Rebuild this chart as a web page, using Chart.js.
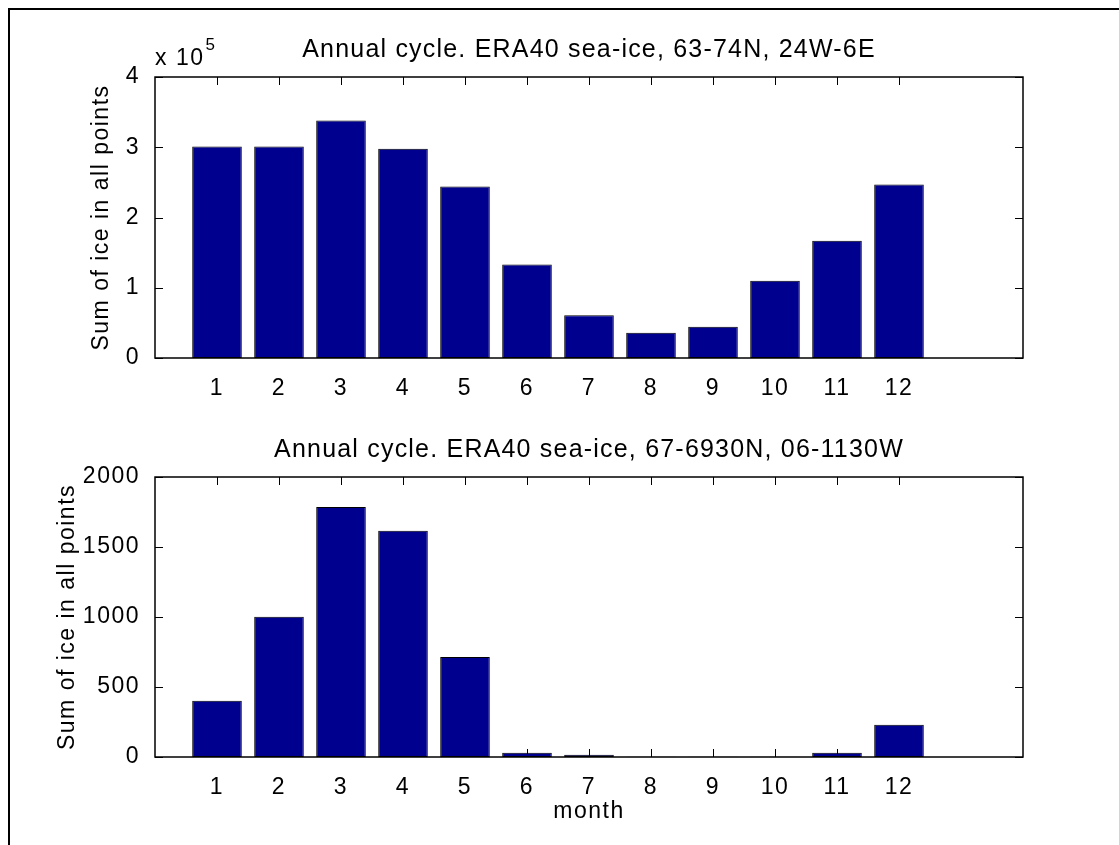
<!DOCTYPE html>
<html>
<head>
<meta charset="utf-8">
<script src="https://cdn.jsdelivr.net/npm/chart.js@4.4.1/dist/chart.umd.min.js"></script>
<style>
  html, body { margin: 0; padding: 0; background: #fff; }
  #page { position: relative; width: 1119px; height: 845px; overflow: hidden; }
  #frame { position: absolute; left: 8px; top: 8px; width: 1200px; height: 900px;
           border-top: 2px solid #000; border-left: 2px solid #000; }
  .panel { position: absolute; left: 0; }
</style>
</head>
<body>
<div id="page">
  <div id="frame"></div>
  <canvas class="panel" id="chart1" width="1119" height="420" style="top:0"></canvas>
  <canvas class="panel" id="chart2" width="1119" height="425" style="top:420px"></canvas>
</div>
<script>
// months on the x axis
const months = [1, 2, 3, 4, 5, 6, 7, 8, 9, 10, 11, 12];

// top panel: 63-74N, 24W-6E (in ice points)
const iceEast = [301000, 301000, 338000, 298000, 244000, 133000, 61000, 36000, 44500, 110000, 167000, 247000];
// bottom panel: 67-6930N, 06-1130W
const iceWest = [402, 1002, 1786, 1616, 714, 31, 16, 2, 1, 1, 31, 231];

const eastTicks = [0, 100000, 200000, 300000, 400000];
const westTicks = [0, 500, 1000, 1500, 2000];

const title1 = "Annual cycle. ERA40 sea-ice, 63-74N, 24W-6E";
const title2 = "Annual cycle. ERA40 sea-ice, 67-6930N, 06-1130W";
const yLabel = "Sum of ice in all points";
const xLabel = "month";

const FONT = "'Liberation Sans', Arial, Helvetica, sans-serif";
const BAR = "#00008F";

// old matlab screen text is a bit wider than plain Arial
const letterSpace = {
  id: "letterSpace",
  beforeUpdate(chart) { chart.ctx.letterSpacing = "1.5px"; },
  beforeDraw(chart) { chart.ctx.letterSpacing = "1.5px"; },
};

// inward tick marks on all four sides, then the box on top
const matlabAxes = {
  id: "matlabAxes",
  beforeDatasetsDraw(chart) {
    const { ctx, chartArea: a, scales } = chart;
    const len = 8;
    ctx.save();
    ctx.strokeStyle = "#000";
    ctx.lineWidth = 1;
    ctx.beginPath();
    scales.x.ticks.forEach((t) => {
      const px = Math.round(scales.x.getPixelForValue(t.value)) + 0.5;
      ctx.moveTo(px, a.bottom);
      ctx.lineTo(px, a.bottom - len);
      ctx.moveTo(px, a.top);
      ctx.lineTo(px, a.top + len);
    });
    scales.y.ticks.forEach((t) => {
      const py = Math.round(scales.y.getPixelForValue(t.value)) + 0.5;
      ctx.moveTo(a.left, py);
      ctx.lineTo(a.left + len, py);
      ctx.moveTo(a.right, py);
      ctx.lineTo(a.right - len, py);
    });
    ctx.stroke();
    ctx.restore();
  },
  afterDatasetsDraw(chart) {
    const { ctx, chartArea: a } = chart;
    ctx.save();
    ctx.strokeStyle = "#000";
    ctx.lineWidth = 1.5;
    ctx.strokeRect(Math.round(a.left), Math.round(a.top), Math.round(a.right - a.left), Math.round(a.bottom - a.top));
    ctx.restore();
  },
};

// title centred over the axes box, like matlab does
function panelTitle(text, y) {
  return {
    id: "panelTitle",
    afterDraw(chart) {
      const { ctx, chartArea: a } = chart;
      ctx.save();
      ctx.letterSpacing = "1.2px";
      ctx.fillStyle = "#000";
      ctx.font = "25px " + FONT;
      ctx.textAlign = "center";
      ctx.textBaseline = "alphabetic";
      ctx.fillText(text, (a.left + a.right) / 2, y);
      ctx.restore();
    },
  };
}

// the "x 10^5" multiplier over the top axis
const exponentLabel = {
  id: "exponentLabel",
  afterDraw(chart) {
    const { ctx, chartArea: a } = chart;
    ctx.save();
    ctx.fillStyle = "#000";
    ctx.textBaseline = "alphabetic";
    ctx.textAlign = "left";
    ctx.font = "23px " + FONT;
    ctx.fillText("x 10", a.left, a.top - 12);
    const w = ctx.measureText("x 10").width;
    ctx.font = "17px " + FONT;
    ctx.fillText("5", a.left + w + 1, a.top - 27);
    ctx.restore();
  },
};

function makeChart(id, values, yTicks, yMax, yFmt, opts) {
  const ctx = document.getElementById(id).getContext("2d");
  return new Chart(ctx, {
    type: "bar",
    data: {
      datasets: [
        {
          data: months.map((m, i) => ({ x: m, y: values[i] })),
          backgroundColor: BAR,
          borderColor: "#000",
          borderWidth: 1,
          borderSkipped: false,
          categoryPercentage: 1,
          barPercentage: 0.8,
        },
      ],
    },
    options: {
      responsive: false,
      animation: false,
      layout: { padding: { left: 0, right: 96, top: opts.padTop, bottom: opts.padBottom } },
      plugins: {
        legend: { display: false },
        tooltip: { enabled: false },
        title: { display: false },
      },
      scales: {
        x: {
          type: "linear",
          offset: false,
          min: 0,
          max: 14,
          grid: { display: false },
          border: { display: false },
          afterBuildTicks: (scale) => {
            scale.ticks = months.map((m) => ({ value: m }));
          },
          afterFit: (scale) => {
            scale.height = opts.xHeight;
          },
          ticks: {
            color: "#000",
            padding: 9,
            maxRotation: 0,
            autoSkip: false,
            font: { family: FONT, size: 23 },
          },
          title: {
            display: !!opts.xTitle,
            text: opts.xTitle || "",
            color: "#000",
            padding: { top: 0, bottom: 0 },
            font: { family: FONT, size: 23 },
          },
        },
        y: {
          min: 0,
          max: yMax,
          grid: { display: false },
          border: { display: false },
          afterBuildTicks: (scale) => {
            scale.ticks = yTicks.map((v) => ({ value: v }));
          },
          afterFit: (scale) => {
            scale.width = 155;
          },
          ticks: {
            color: "#000",
            padding: 7,
            font: { family: FONT, size: 23 },
            callback: yFmt,
          },
          title: {
            display: true,
            text: yLabel,
            color: "#000",
            padding: { top: opts.yTitlePad, bottom: 0 },
            font: { family: FONT, size: 23 },
          },
        },
      },
    },
    plugins: [letterSpace, matlabAxes, panelTitle(opts.title, opts.titleY)].concat(opts.extra || []),
  });
}

makeChart("chart1", iceEast, eastTicks, 400000, (v) => v / 100000, {
  title: title1,
  titleY: 57,
  padTop: 77,
  xHeight: 62,
  padBottom: 0,
  yTitlePad: 88,
  extra: [exponentLabel],
});

makeChart("chart2", iceWest, westTicks, 2000, (v) => v, {
  title: title2,
  titleY: 37,
  padTop: 57,
  xHeight: 68,
  padBottom: 20,
  yTitlePad: 54,
  xTitle: xLabel,
});
</script>
</body>
</html>
